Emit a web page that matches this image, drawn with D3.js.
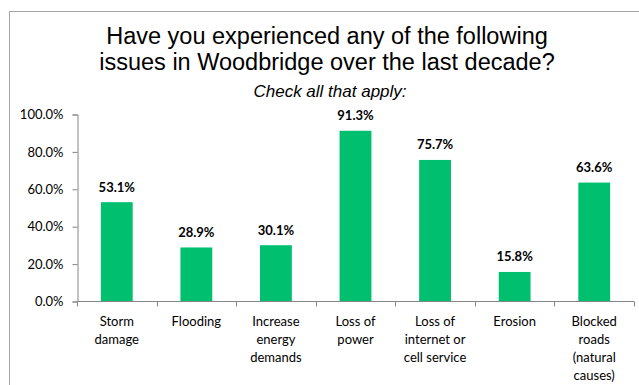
<!DOCTYPE html>
<html>
<head>
<meta charset="utf-8">
<script src="https://cdn.jsdelivr.net/npm/d3@7"></script>
<style>
  html, body { margin: 0; padding: 0; background: #fff; }
  svg { display: block; }
</style>
</head>
<body>
<svg id="chart" width="639" height="385"></svg>
<script>
// Survey answers: share of respondents reporting each issue
const categories = [
  "Storm damage",
  "Flooding",
  "Increase energy demands",
  "Loss of power",
  "Loss of internet or cell service",
  "Erosion",
  "Blocked roads (natural causes)"
];
const categoryLines = [
  ["Storm", "damage"],
  ["Flooding"],
  ["Increase", "energy", "demands"],
  ["Loss of", "power"],
  ["Loss of", "internet or", "cell service"],
  ["Erosion"],
  ["Blocked", "roads", "(natural", "causes)"]
];
const values = [53.1, 28.9, 30.1, 91.3, 75.7, 15.8, 63.6];
const yTicks = [0, 20, 40, 60, 80, 100];
const titleLines = [
  "Have you experienced any of the following",
  "issues in Woodbridge over the last decade?"
];
const subtitle = "Check all that apply:";

const svg = d3.select("#chart");
const W = 639, H = 385;

// Outer chart frame (continues past the right/bottom edges)
svg.append("rect")
  .attr("x", 9.5).attr("y", 11.5)
  .attr("width", W).attr("height", H)
  .attr("fill", "#fff")
  .attr("stroke", "#a6a6a6")
  .attr("stroke-width", 1);

// Title
const title = svg.append("g")
  .attr("font-family", "'Liberation Sans', Arial, sans-serif")
  .attr("fill", "#000")
  .attr("text-anchor", "middle");
title.selectAll("text.t")
  .data(titleLines)
  .join("text")
  .attr("class", "t")
  .attr("x", 327)
  .attr("y", (d, i) => 44 + i * 26)
  .attr("font-size", 23.5)
  .text(d => d);
title.append("text")
  .attr("x", 330)
  .attr("y", 97)
  .attr("font-size", 17)
  .attr("font-style", "italic")
  .text(subtitle);

// Scales
const x = d3.scaleBand()
  .domain(categories)
  .range([77, 634])
  .paddingInner(0.6)
  .paddingOuter(0.3);
const y = d3.scaleLinear()
  .domain([0, 100])
  .range([301.5, 114.5]);

const axisColor = "#868686";
const font = "Lato, 'Open Sans', sans-serif";

// Y axis
const yAxis = svg.append("g")
  .attr("transform", "translate(77.5,0)")
  .call(d3.axisLeft(y).tickValues(yTicks).tickSize(5).tickPadding(9)
    .tickFormat(d => d3.format(".1f")(d) + "%"));
yAxis.select(".domain").attr("stroke", axisColor);
yAxis.selectAll(".tick line").attr("stroke", axisColor);
yAxis.selectAll(".tick text")
  .attr("font-family", font).attr("font-size", 13).attr("fill", "#000");

// Bars
svg.append("g")
  .selectAll("rect")
  .data(values)
  .join("rect")
  .attr("x", (d, i) => x(categories[i]))
  .attr("y", d => y(d))
  .attr("width", x.bandwidth())
  .attr("height", d => y(0) - y(d))
  .attr("fill", "#00bf6f");

// Value labels
svg.append("g")
  .selectAll("text")
  .data(values)
  .join("text")
  .attr("x", (d, i) => x(categories[i]) + x.bandwidth() / 2)
  .attr("y", d => y(d) - 10.5)
  .attr("text-anchor", "middle")
  .attr("font-family", font)
  .attr("font-weight", "bold")
  .attr("font-size", 13)
  .attr("fill", "#000")
  .text(d => d3.format(".1f")(d) + "%");

// X axis baseline with boundary ticks
const xAxis = svg.append("g");
xAxis.append("line")
  .attr("x1", 77).attr("x2", 634)
  .attr("y1", y(0)).attr("y2", y(0))
  .attr("stroke", axisColor);
const bounds = categories.map(c => x(c) - x.step() * x.paddingInner() / 2)
  .concat([634]);
xAxis.selectAll("line.tick")
  .data(bounds)
  .join("line")
  .attr("class", "tick")
  .attr("x1", d => Math.round(d) + 0.5).attr("x2", d => Math.round(d) + 0.5)
  .attr("y1", y(0)).attr("y2", y(0) + 5)
  .attr("stroke", axisColor);

// Category labels
const catG = svg.append("g")
  .attr("font-family", font)
  .attr("font-size", 13)
  .attr("fill", "#000")
  .attr("text-anchor", "middle");
categoryLines.forEach((lines, i) => {
  const t = catG.append("text")
    .attr("x", x(categories[i]) + x.bandwidth() / 2)
    .attr("y", 326);
  lines.forEach((ln, j) => {
    t.append("tspan")
      .attr("x", x(categories[i]) + x.bandwidth() / 2)
      .attr("y", 326 + j * 18)
      .text(ln);
  });
});
</script>
</body>
</html>
